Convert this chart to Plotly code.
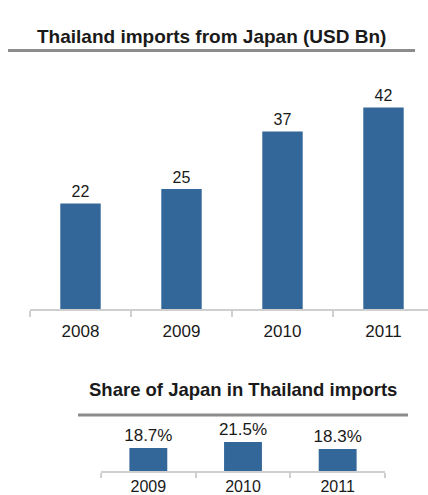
import plotly.graph_objects as go

# Thailand imports from Japan, USD billion
years_imports = ["2008", "2009", "2010", "2011"]
imports_usd_bn = [22, 25, 37, 42]

# Japan's share of Thailand's total imports, %
years_share = ["2009", "2010", "2011"]
share_pct = [18.7, 21.5, 18.3]

BLUE = "#336699"
TEXT = "#1a1a1a"
AXIS = "#cfcfcf"
RULE = "#8c8c8c"
FONT = "Liberation Sans, Arial, sans-serif"

W, H = 428, 495


def py(px):
    return 1 - px / H


def pxx(px):
    return px / W


fig = go.Figure()

fig.add_trace(go.Bar(
    x=years_imports, y=imports_usd_bn, width=0.4,
    marker=dict(color=BLUE, line=dict(width=0)),
    text=[str(v) for v in imports_usd_bn], textposition="outside",
    constraintext="none",
    textfont=dict(size=16, color=TEXT, family=FONT),
    cliponaxis=False, xaxis="x", yaxis="y", showlegend=False,
))

fig.add_trace(go.Bar(
    x=years_share, y=share_pct, width=0.4,
    marker=dict(color=BLUE, line=dict(width=0)),
    text=[f"{v:.1f}%" for v in share_pct], textposition="outside",
    constraintext="none",
    textfont=dict(size=17, color=TEXT, family=FONT),
    cliponaxis=False, xaxis="x2", yaxis="y2", showlegend=False,
))

axis_common = dict(
    type="category", showline=True, linecolor=AXIS, linewidth=2,
    ticks="outside", tickson="boundaries", ticklen=6, tickcolor=AXIS,
    tickwidth=2, showgrid=False, zeroline=False, fixedrange=True,
    automargin=False,
)

fig.update_layout(
    width=W, height=H,
    margin=dict(l=0, r=0, t=0, b=0, autoexpand=False),
    paper_bgcolor="white", plot_bgcolor="white",
    font=dict(family=FONT, color=TEXT),
    bargap=0.6,
    xaxis=dict(axis_common, domain=[pxx(30), 1], range=[-0.5, -0.5 + 398 / 101],
               anchor="y", ticklabelstandoff=6, tickfont=dict(size=17, color=TEXT)),
    yaxis=dict(domain=[py(309), py(69)], range=[0, 50], visible=False,
               anchor="x", fixedrange=True),
    xaxis2=dict(axis_common, domain=[pxx(101), pxx(385)], range=[-0.5, 2.5],
                anchor="y2", ticklen=5, ticklabelstandoff=0,
                tickfont=dict(size=16, color=TEXT)),
    yaxis2=dict(domain=[py(471), py(434.5)], range=[8, 25], visible=False,
                anchor="x2", fixedrange=True),
    annotations=[
        dict(text="<b>Thailand imports from Japan (USD Bn)</b>", x=pxx(211), y=py(24),
             xref="paper", yref="paper", showarrow=False,
             font=dict(size=19, color=TEXT, family=FONT)),
        dict(text="<b>Share of Japan in Thailand imports</b>", x=pxx(243), y=py(402),
             xref="paper", yref="paper", showarrow=False,
             font=dict(size=18.5, color=TEXT, family=FONT)),
    ],
    shapes=[
        dict(type="line", xref="paper", yref="paper", x0=pxx(8), x1=pxx(415),
             y0=py(50.5), y1=py(50.5), line=dict(color=RULE, width=3)),
        dict(type="line", xref="paper", yref="paper", x0=pxx(78), x1=pxx(408),
             y0=py(415), y1=py(415), line=dict(color=RULE, width=3)),
    ],
)

fig.write_html("out.html")
